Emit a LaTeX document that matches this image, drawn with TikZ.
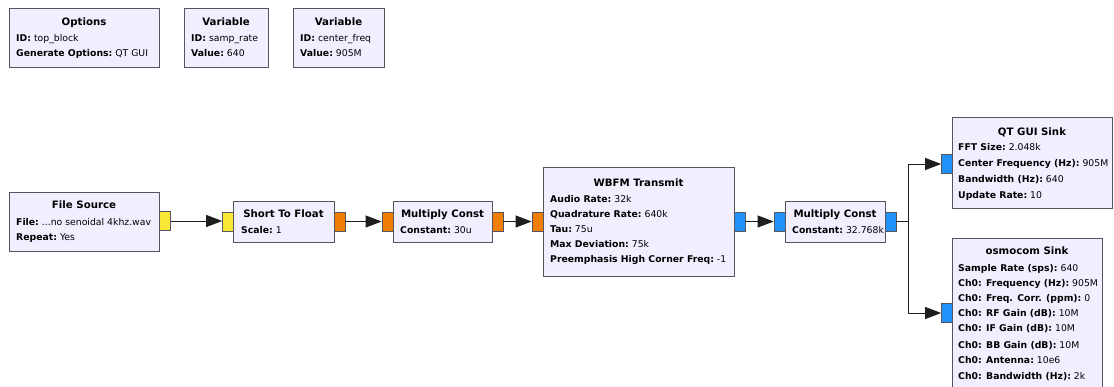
\documentclass[tikz,border=0pt]{standalone}
\usepackage{fontspec}
\setmainfont{DejaVu Sans}
\usetikzlibrary{arrows.meta}
\definecolor{blkfill}{RGB}{241,239,255}
\definecolor{blkdraw}{RGB}{85,85,95}
\definecolor{portY}{RGB}{250,232,55}
\definecolor{portO}{RGB}{240,125,5}
\definecolor{portB}{RGB}{35,145,250}
\definecolor{connc}{RGB}{30,30,30}
\tikzset{
  blockbox/.style={draw=blkdraw, fill=blkfill, line width=0.9pt, inner sep=0pt, anchor=north west},
  btitle/.style={inner sep=0pt, anchor=base, font=\fontsize{10.2}{12}\selectfont\bfseries},
  bparam/.style={inner sep=0pt, anchor=base west, font=\fontsize{9.3}{11}\selectfont},
  port/.style={draw=blkdraw, line width=0.7pt, inner sep=0pt, minimum width=11pt, minimum height=19pt},
  conn/.style={draw=connc, line width=0.9pt, -{Triangle[length=16pt,width=12pt]}}
}
\newcommand{\lbl}[2]{\textbf{#1}\ #2}
\begin{document}
\begin{tikzpicture}[x=1pt,y=-1pt]
\useasboundingbox (0,0) rectangle (1114,387);
\fill[white] (0,0) rectangle (1114,387);
\clip (0,0) rectangle (1114,387);

% ---------- Options / Variables ----------
\node[blockbox, minimum width=150pt, minimum height=59pt] (opt) at (9,8) {};
\node[btitle] (opt-t) at (84,25.5) {Options};
\node[bparam] (opt-1) at (16,41.5) {\lbl{ID:}{top\_block}};
\node[bparam] (opt-2) at (16,56.5) {\lbl{Generate Options:}{QT GUI}};

\node[blockbox, minimum width=84pt, minimum height=59pt] (var1) at (184,8) {};
\node[btitle] (var1-t) at (226,25.5) {Variable};
\node[bparam] (var1-1) at (191,41.5) {\lbl{ID:}{samp\_rate}};
\node[bparam] (var1-2) at (191,56.5) {\lbl{Value:}{640}};

\node[blockbox, minimum width=91pt, minimum height=59pt] (var2) at (293,8) {};
\node[btitle] (var2-t) at (338.5,25.5) {Variable};
\node[bparam] (var2-1) at (300,41.5) {\lbl{ID:}{center\_freq}};
\node[bparam] (var2-2) at (300,56.5) {\lbl{Value:}{905M}};

% ---------- File Source ----------
\node[blockbox, minimum width=150pt, minimum height=59pt] (fs) at (9,192) {};
\node[btitle] (fs-t) at (84,208.5) {File Source};
\node[bparam] (fs-1) at (16,225.5) {\lbl{File:}{...no senoidal 4khz.wav}};
\node[bparam] (fs-2) at (16,240.5) {\lbl{Repeat:}{Yes}};
\node[port, fill=portY] (fs-out) at (165,221) {};

% ---------- Short To Float ----------
\node[blockbox, minimum width=101pt, minimum height=41pt] (sf) at (233,201) {};
\node[btitle] (sf-t) at (283.5,217.5) {Short To Float};
\node[bparam] (sf-1) at (241,233.5) {\lbl{Scale:}{1}};
\node[port, fill=portY] (sf-in) at (228,221.5) {};
\node[port, fill=portO] (sf-out) at (339.5,221.5) {};

% ---------- Multiply Const 1 ----------
\node[blockbox, minimum width=99pt, minimum height=41pt] (mc1) at (393,201) {};
\node[btitle] (mc1-t) at (442.5,217.5) {Multiply Const};
\node[bparam] (mc1-1) at (400,233.5) {\lbl{Constant:}{30u}};
\node[port, fill=portO] (mc1-in) at (387.5,221.5) {};
\node[port, fill=portO] (mc1-out) at (497.5,221.5) {};

% ---------- WBFM Transmit ----------
\node[blockbox, minimum width=191pt, minimum height=109pt] (wb) at (543,167) {};
\node[btitle] (wb-t) at (638.5,186.5) {WBFM Transmit};
\node[bparam] (wb-1) at (550,202.5) {\lbl{Audio Rate:}{32k}};
\node[bparam] (wb-2) at (550,217.5) {\lbl{Quadrature Rate:}{640k}};
\node[bparam] (wb-3) at (550,232.5) {\lbl{Tau:}{75u}};
\node[bparam] (wb-4) at (550,247.5) {\lbl{Max Deviation:}{75k}};
\node[bparam] (wb-5) at (550,262.5) {\lbl{Preemphasis High Corner Freq:}{-1}};
\node[port, fill=portO] (wb-in) at (537.5,221.5) {};
\node[port, fill=portB] (wb-out) at (739.5,221.5) {};

% ---------- Multiply Const 2 ----------
\node[blockbox, minimum width=100pt, minimum height=41pt] (mc2) at (785,201) {};
\node[btitle] (mc2-t) at (835,217.5) {Multiply Const};
\node[bparam] (mc2-1) at (792,233.5) {\lbl{Constant:}{32.768k}};
\node[port, fill=portB] (mc2-in) at (779.5,221.5) {};
\node[port, fill=portB] (mc2-out) at (890.5,221.5) {};

% ---------- QT GUI Sink ----------
\node[blockbox, minimum width=160pt, minimum height=91pt] (qt) at (952,117) {};
\node[btitle] (qt-t) at (1032,135.5) {QT GUI Sink};
\node[bparam] (qt-1) at (958,151) {\lbl{FFT Size:}{2.048k}};
\node[bparam] (qt-2) at (958,166.5) {\lbl{Center Frequency (Hz):}{905M}};
\node[bparam] (qt-3) at (958,182.5) {\lbl{Bandwidth (Hz):}{640}};
\node[bparam] (qt-4) at (958,198.5) {\lbl{Update Rate:}{10}};
\node[port, fill=portB] (qt-in) at (947,164) {};

% ---------- osmocom Sink ----------
\node[blockbox, minimum width=150pt, minimum height=170pt] (os) at (952,238) {};
\node[btitle] (os-t) at (1027,254.5) {osmocom Sink};
\node[bparam] (os-1) at (958,271.5) {\lbl{Sample Rate (sps):}{640}};
\node[bparam] (os-2) at (958,286.5) {\lbl{Ch0: Frequency (Hz):}{905M}};
\node[bparam] (os-3) at (958,301.5) {\lbl{Ch0: Freq. Corr. (ppm):}{0}};
\node[bparam] (os-4) at (958,316.5) {\lbl{Ch0: RF Gain (dB):}{10M}};
\node[bparam] (os-5) at (958,331.5) {\lbl{Ch0: IF Gain (dB):}{10M}};
\node[bparam] (os-6) at (958,348.5) {\lbl{Ch0: BB Gain (dB):}{10M}};
\node[bparam] (os-7) at (958,363.5) {\lbl{Ch0: Antenna:}{10e6}};
\node[bparam] (os-8) at (958,379.5) {\lbl{Ch0: Bandwidth (Hz):}{2k}};
\node[port, fill=portB] (os-in) at (947,313) {};

% ---------- Connections ----------
\draw[conn] (fs-out.east) -- (sf-in.west |- fs-out.east);
\draw[conn] (sf-out.east) -- (mc1-in.west);
\draw[conn] (mc1-out.east) -- (wb-in.west);
\draw[conn] (wb-out.east) -- (mc2-in.west);
\coordinate (split) at (908,221.5);
\draw[conn] (mc2-out.east) -- (split) |- (qt-in.west);
\draw[conn] (split) |- (os-in.west);
\end{tikzpicture}
\end{document}
